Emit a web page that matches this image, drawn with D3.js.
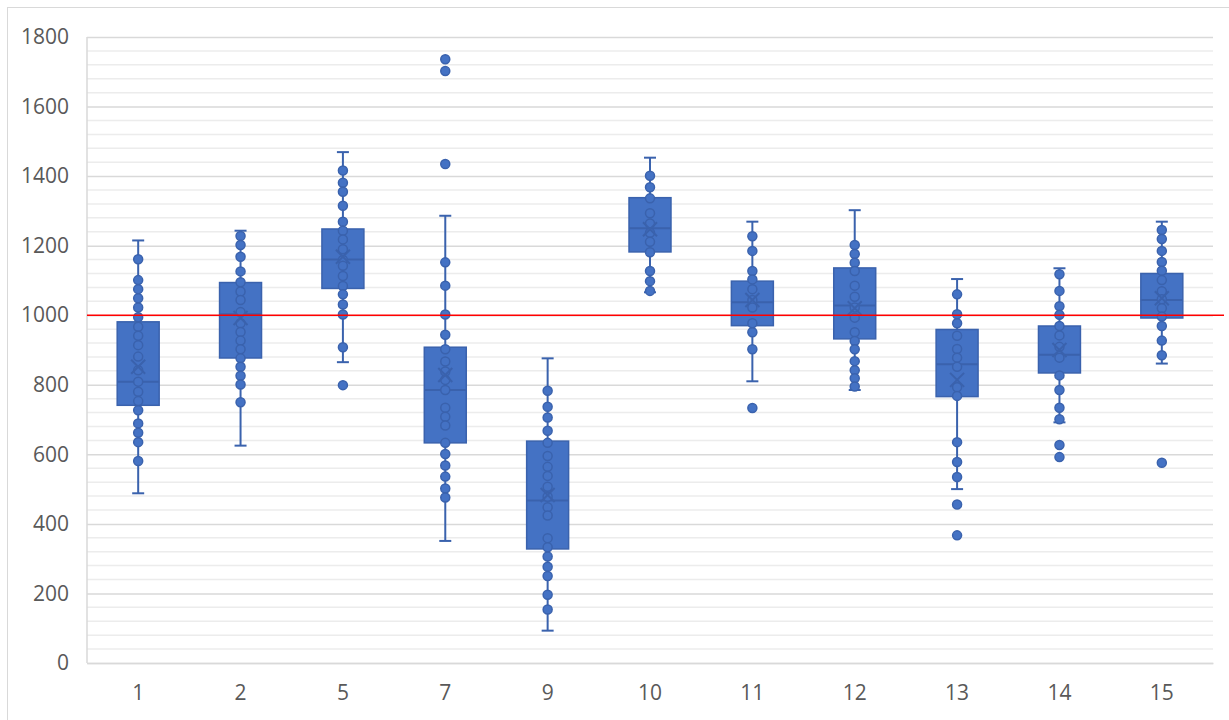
<!DOCTYPE html>
<html>
<head>
<meta charset="utf-8">
<script src="https://cdn.jsdelivr.net/npm/d3@7"></script>
<style>
  body { margin: 0; background: #fff; }
  svg text { font-family: "Open Sans", sans-serif; fill: #595959; }
</style>
</head>
<body>
<svg id="chart" width="1229" height="720"></svg>
<script>
// chart values
const categories = ['1', '2', '5', '7', '9', '10', '11', '12', '13', '14', '15'];
const whiskerLow  = [488, 625, 865, 351, 93, 1066, 810, 785, 500, 692, 861];
const q1          = [741, 877, 1077, 633, 328, 1182, 970, 932, 766, 834, 992];
const medians     = [809, 1003, 1160, 785, 467, 1250, 1037, 1028, 859, 886, 1044];
const q3          = [981, 1094, 1248, 908, 638, 1338, 1098, 1136, 959, 969, 1120];
const whiskerHigh = [1215, 1243, 1469, 1286, 876, 1453, 1269, 1302, 1104, 1135, 1269];
const means       = [852, 992, 1168, 828, 483, 1247, 1044, 1020, 814, 900, 1049];
// every dot drawn for a category (inner points and outliers)
const points = [
  [1161, 1101, 1075, 1049, 1022, 994, 967, 941, 914, 881, 842, 809, 780, 753, 727, 689, 662, 635, 581],
  [1228, 1202, 1168, 1126, 1095, 1068, 1044, 1009, 977, 952, 927, 902, 876, 852, 826, 801, 750],
  [1416, 1381, 1355, 1315, 1269, 1243, 1218, 1190, 1159, 1142, 1113, 1084, 1060, 1031, 1002, 908, 799],
  [1736, 1702, 1435, 1152, 1085, 1002, 944, 902, 867, 838, 814, 785, 734, 708, 683, 633, 601, 568, 536, 502, 476],
  [783, 737, 706, 668, 633, 595, 564, 538, 507, 478, 448, 424, 359, 333, 306, 277, 250, 196, 154],
  [1401, 1368, 1336, 1293, 1264, 1237, 1211, 1181, 1127, 1098, 1070],
  [1227, 1185, 1127, 1103, 1075, 1044, 1022, 977, 951, 902, 733],
  [1202, 1176, 1151, 1127, 1085, 1053, 1022, 993, 951, 926, 902, 868, 842, 819, 795],
  [1060, 1003, 977, 941, 903, 878, 852, 793, 768, 635, 578, 535, 456, 367],
  [1118, 1070, 1026, 1001, 969, 942, 909, 878, 827, 785, 734, 701, 627, 592],
  [1245, 1219, 1185, 1153, 1128, 1101, 1069, 1046, 1020, 996, 969, 927, 885, 576]
];
const yTicks = [0, 200, 400, 600, 800, 1000, 1200, 1400, 1600, 1800];
const minorStep = 40;
const targetValue = 1000;

// layout
const margin = { top: 37, right: 16, bottom: 57, left: 87 };
const W = 1229, H = 720;
const width = W - margin.left - margin.right;
const height = H - margin.top - margin.bottom;

const blue = '#4472C4', darkBlue = '#3A62AD';
const labelSize = 21;

const svg = d3.select('#chart');

// outer chart border
svg.append('rect')
  .attr('x', 7.5).attr('y', 7.5)
  .attr('width', 1260).attr('height', 760)
  .attr('fill', 'none').attr('stroke', '#d9d9d9');

const g = svg.append('g')
  .attr('transform', `translate(${margin.left},${margin.top})`);

const x = d3.scaleBand().domain(categories).range([0, width]).padding(0);
const y = d3.scaleLinear().domain([0, 1800]).range([height, 0]);

// minor gridlines
const minor = d3.range(0, 1800 + 1, minorStep).filter(v => v % 200 !== 0);
g.selectAll('.minor').data(minor).join('line')
  .attr('class', 'minor')
  .attr('x1', 0).attr('x2', width)
  .attr('y1', d => y(d)).attr('y2', d => y(d))
  .attr('stroke', '#ececec').attr('stroke-width', 1.5);

// major gridlines + y labels
const yAxis = d3.axisLeft(y).tickValues(yTicks).tickFormat(d3.format('d')).tickSize(-width).tickPadding(18);
g.append('g').call(yAxis)
  .call(a => a.select('.domain').remove())
  .call(a => a.selectAll('line').attr('stroke', '#d9d9d9').attr('stroke-width', 1.5))
  .call(a => a.selectAll('text').attr('font-size', labelSize).attr('font-family', '"Open Sans", sans-serif').attr('fill', '#595959'));

// y axis line
g.append('line')
  .attr('x1', 0).attr('x2', 0).attr('y1', 0).attr('y2', height)
  .attr('stroke', '#d9d9d9').attr('stroke-width', 1.5);

// x labels
const xAxis = d3.axisBottom(x).tickSize(0).tickPadding(22);
g.append('g').attr('transform', `translate(0,${height})`).call(xAxis)
  .call(a => a.select('.domain').attr('stroke', '#d9d9d9').attr('stroke-width', 1.5))
  .call(a => a.selectAll('text').attr('font-size', labelSize).attr('font-family', '"Open Sans", sans-serif').attr('fill', '#595959'));

const boxW = x.bandwidth() * 0.41;
const capW = 12;

const data = categories.map((c, i) => ({
  cat: c, lo: whiskerLow[i], q1: q1[i], med: medians[i], q3: q3[i],
  hi: whiskerHigh[i], mean: means[i], pts: points[i]
}));

const box = g.selectAll('.box').data(data).join('g')
  .attr('class', 'box')
  .attr('transform', d => `translate(${x(d.cat) + x.bandwidth() / 2},0)`);

// whiskers
box.append('line')
  .attr('x1', 0).attr('x2', 0).attr('y1', d => y(d.q3)).attr('y2', d => y(d.hi))
  .attr('stroke', darkBlue).attr('stroke-width', 2);
box.append('line')
  .attr('x1', 0).attr('x2', 0).attr('y1', d => y(d.q1)).attr('y2', d => y(d.lo))
  .attr('stroke', darkBlue).attr('stroke-width', 2);
box.append('line')
  .attr('x1', -capW / 2).attr('x2', capW / 2).attr('y1', d => y(d.hi)).attr('y2', d => y(d.hi))
  .attr('stroke', darkBlue).attr('stroke-width', 2);
box.append('line')
  .attr('x1', -capW / 2).attr('x2', capW / 2).attr('y1', d => y(d.lo)).attr('y2', d => y(d.lo))
  .attr('stroke', darkBlue).attr('stroke-width', 2);

// box
box.append('rect')
  .attr('x', -boxW / 2).attr('width', boxW)
  .attr('y', d => y(d.q3)).attr('height', d => y(d.q1) - y(d.q3))
  .attr('fill', blue).attr('stroke', darkBlue).attr('stroke-width', 1.5);

// median
box.append('line')
  .attr('x1', -boxW / 2).attr('x2', boxW / 2)
  .attr('y1', d => y(d.med)).attr('y2', d => y(d.med))
  .attr('stroke', darkBlue).attr('stroke-width', 2);

// points
box.selectAll('circle').data(d => d.pts).join('circle')
  .attr('cx', 0).attr('cy', v => y(v)).attr('r', 4.5)
  .attr('fill', blue).attr('stroke', darkBlue).attr('stroke-width', 1.5);

// mean marker (X)
const mx = 7, my = 7;
box.append('path')
  .attr('d', d => `M${-mx},${y(d.mean) - my}L${mx},${y(d.mean) + my}M${-mx},${y(d.mean) + my}L${mx},${y(d.mean) - my}`)
  .attr('stroke', darkBlue).attr('stroke-width', 2).attr('fill', 'none');

// red reference line
g.append('line')
  .attr('x1', 0).attr('x2', W - margin.left - 5)
  .attr('y1', y(targetValue)).attr('y2', y(targetValue))
  .attr('stroke', '#ff0000').attr('stroke-width', 1.5);
</script>
</body>
</html>
